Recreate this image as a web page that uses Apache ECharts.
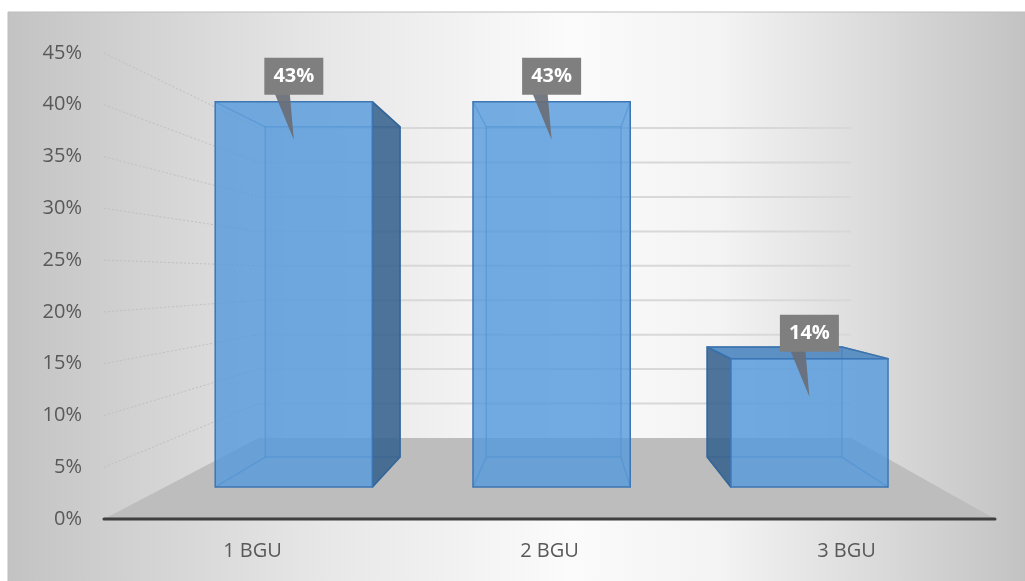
<!DOCTYPE html>
<html><head><meta charset="utf-8">
<script src="https://cdn.jsdelivr.net/npm/echarts@6/dist/echarts.min.js"></script>
<style>html,body{margin:0;padding:0;background:#fff}#c{width:1025px;height:581px}</style>
</head><body><div id="c"></div>
<script>
const categories = ['1 BGU', '2 BGU', '3 BGU'];
const shares = [42.86, 42.86, 14.29];
const shareLabels = ['43%', '43%', '14%'];
const yTicks = [0, 5, 10, 15, 20, 25, 30, 35, 40, 45];

// perspective settings (layout only)
const VP = { fx: 0.518, fy: 0.481 };
const DEPTH = { barFront: 0.868, barBack: 0.744, wall: 0.665 };

function proj(cs, x, y, f) {
  const vx = cs.x + cs.width * VP.fx, vy = cs.y + cs.height * VP.fy;
  return [vx + (x - vx) * f, vy + (y - vy) * f];
}

const chart = echarts.init(document.getElementById('c'), null, { renderer: 'canvas' });

function renderWalls(params, api) {
  const cs = params.coordSys;
  const v = api.value(1);
  const p = api.coord([0, v]);
  const y = p[1];
  const xl = cs.x, xr = cs.x + cs.width;
  const children = [];
  if (v === 0) {
    children.push({
      type: 'polygon',
      shape: { points: [proj(cs, xl, y, 1), proj(cs, xr, y, 1), proj(cs, xr, y, DEPTH.wall), proj(cs, xl, y, DEPTH.wall)] },
      style: { fill: '#bdbdbd' }
    });
    children.push({
      type: 'line',
      shape: { x1: xl, y1: y, x2: xr, y2: y },
      style: { stroke: '#3f3f3f', lineWidth: 3, lineCap: 'round' }
    });
  } else {
    const b = proj(cs, xl, y, DEPTH.wall);
    const br = proj(cs, xr, y, DEPTH.wall);
    children.push({
      type: 'line',
      shape: { x1: xl, y1: y, x2: b[0], y2: b[1] },
      style: { stroke: '#c0c0c0', lineWidth: 1, lineDash: [2, 2] }
    });
    children.push({
      type: 'line',
      shape: { x1: b[0], y1: b[1], x2: br[0], y2: br[1] },
      style: { stroke: '#d8d8d8', lineWidth: 2 }
    });
  }
  return { type: 'group', children };
}

function boxPoints(params, api) {
  const cs = params.coordSys;
  const i = api.value(0), v = api.value(1);
  const top = api.coord([i, v]);
  const base = api.coord([i, 0]);
  const w = api.size([1, 0])[0] * 0.61;
  const x0 = top[0] - w / 2, x1 = top[0] + w / 2;
  const fb = DEPTH.barFront, fk = DEPTH.barBack;
  return {
    a: proj(cs, x0, top[1], fb), b: proj(cs, x1, top[1], fb),
    c: proj(cs, x1, base[1], fb), d: proj(cs, x0, base[1], fb),
    A: proj(cs, x0, top[1], fk), B: proj(cs, x1, top[1], fk),
    C: proj(cs, x1, base[1], fk), D: proj(cs, x0, base[1], fk)
  };
}

function renderBars(params, api) {
  const P = boxPoints(params, api);
  const { a, b, c, d, A, B, C, D } = P;
  const edge = 'rgba(55,105,165,0.55)';
  const children = [];
  children.push({ type: 'polygon', shape: { points: [A, B, C, D] }, style: { fill: 'rgba(90,150,210,0.12)', stroke: edge, lineWidth: 1.5 } });
  children.push({ type: 'line', shape: { x1: d[0], y1: d[1], x2: D[0], y2: D[1] }, style: { stroke: edge, lineWidth: 1.5 } });
  children.push({ type: 'line', shape: { x1: c[0], y1: c[1], x2: C[0], y2: C[1] }, style: { stroke: edge, lineWidth: 1.5 } });
  children.push({ type: 'line', shape: { x1: a[0], y1: a[1], x2: A[0], y2: A[1] }, style: { stroke: edge, lineWidth: 1.5 } });
  children.push({ type: 'line', shape: { x1: b[0], y1: b[1], x2: B[0], y2: B[1] }, style: { stroke: edge, lineWidth: 1.5 } });
  if (A[0] < a[0] - 0.5) {
    children.push({ type: 'polygon', shape: { points: [a, A, D, d] }, style: { fill: 'rgba(52,95,140,0.85)', stroke: '#35669a', lineWidth: 1.5, lineJoin: 'round' } });
  }
  if (B[0] > b[0] + 0.5) {
    children.push({ type: 'polygon', shape: { points: [b, B, C, c] }, style: { fill: 'rgba(52,95,140,0.85)', stroke: '#35669a', lineWidth: 1.5, lineJoin: 'round' } });
  }
  if (A[1] < a[1] - 0.5) {
    children.push({ type: 'polygon', shape: { points: [a, b, B, A] }, style: { fill: 'rgba(70,130,190,0.85)', stroke: '#3a72ad', lineWidth: 1.5, lineJoin: 'round' } });
  }
  children.push({ type: 'polygon', shape: { points: [a, b, c, d] }, style: { fill: 'rgba(84,154,220,0.8)', stroke: '#3d76b3', lineWidth: 1.5 } });
  return { type: 'group', children };
}

function renderLabels(params, api) {
  const P = boxPoints(params, api);
  const i = api.value(0);
  const cx = (P.a[0] + P.b[0]) / 2;
  const ty = P.a[1];
  const bw = 59, bh = 37, gap = 7;
  return {
    type: 'group',
    children: [
      { type: 'polygon', shape: { points: [[cx - 19, ty - gap - 1], [cx - 4, ty - gap - 1], [cx, ty + 38]] }, style: { fill: 'rgba(105,110,118,0.92)' } },
      { type: 'rect', shape: { x: cx - bw / 2, y: ty - gap - bh, width: bw, height: bh }, style: { fill: '#7f7f7f' } },
      { type: 'text', x: cx, y: ty - gap - bh / 2, style: { text: shareLabels[i], fill: '#ffffff', font: 'bold 20px "Open Sans"', align: 'center', verticalAlign: 'middle' } }
    ]
  };
}

const option = {
  animation: false,
  backgroundColor: '#ffffff',
  graphic: {
    elements: [
      {
        type: 'rect', z: -100, silent: true,
        shape: { x: 8, y: 12, width: 1020, height: 572 },
        style: {
          fill: {
            type: 'linear', x: 0, y: 0, x2: 1, y2: 0,
            colorStops: [
              { offset: 0, color: '#c3c3c3' },
              { offset: 0.3, color: '#e6e6e6' },
              { offset: 0.55, color: '#fbfbfb' },
              { offset: 0.7, color: '#f3f3f3' },
              { offset: 1, color: '#c2c2c2' }
            ]
          },
          stroke: '#bdbdbd', lineWidth: 1
        }
      }
    ]
  },
  grid: { left: 104, right: 30, top: 53, bottom: 62, outerBoundsMode: 'none' },
  xAxis: {
    type: 'category',
    data: categories,
    axisLine: { show: false },
    axisTick: { show: false },
    axisLabel: { color: '#595959', fontSize: 20, fontFamily: 'Open Sans', margin: 22 },
    splitLine: { show: false }
  },
  yAxis: {
    type: 'value',
    min: 0, max: 45, interval: 5,
    axisLine: { show: false },
    axisTick: { show: false },
    splitLine: { show: false },
    axisLabel: { formatter: '{value}%', color: '#595959', fontSize: 20, fontFamily: 'Open Sans', margin: 22 }
  },
  series: [
    {
      type: 'custom', name: 'walls', z: 1,
      renderItem: renderWalls,
      encode: { x: 0, y: 1 },
      data: yTicks.map(v => [0, v]),
      silent: true
    },
    {
      type: 'custom', name: 'share', z: 2,
      renderItem: renderBars,
      encode: { x: 0, y: 1 },
      data: shares.map((v, i) => [i, v])
    },
    {
      type: 'custom', name: 'labels', z: 3,
      renderItem: renderLabels,
      encode: { x: 0, y: 1 },
      data: shares.map((v, i) => [i, v])
    }
  ]
};
chart.setOption(option);
</script>
</body></html>
